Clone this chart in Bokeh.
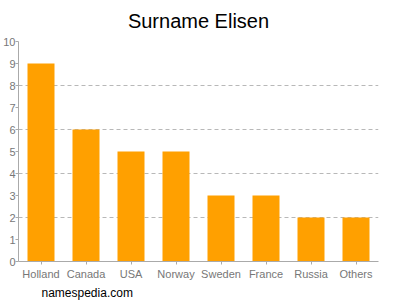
from bokeh.plotting import figure
from bokeh.models import FixedTicker, Title, Range1d
from bokeh.embed import file_html
from bokeh.resources import INLINE

countries = ["Holland", "Canada", "USA", "Norway", "Sweden", "France", "Russia", "Others"]
counts = [9, 6, 5, 5, 3, 3, 2, 2]
y_ticks = list(range(0, 11))
grid_ticks = [2, 4, 6, 8, 10]
title_text = "Surname Elisen"
source_text = "namespedia.com"

FONT = "Liberation Sans"

p = figure(x_range=countries, y_range=Range1d(0, 10), width=400, height=300,
           output_backend="svg", toolbar_location=None,
           min_border_left=17, min_border_right=22, min_border_top=41, min_border_bottom=39)
p.outline_line_color = None
p.background_fill_color = "white"
p.border_fill_color = "white"

p.vbar(x=countries, top=counts, width=0.6, color="#FFA000", line_color=None)

p.xgrid.grid_line_color = None
p.ygrid.ticker = FixedTicker(ticks=grid_ticks)
p.ygrid.grid_line_color = "#b8b8b8"
p.ygrid.grid_line_dash = "4 3"

p.yaxis.ticker = FixedTicker(ticks=y_ticks)
for ax in (p.xaxis[0], p.yaxis[0]):
    ax.axis_line_color = "#aaaaaa"
    ax.major_tick_line_color = "#aaaaaa"
    ax.minor_tick_line_color = None
    ax.major_tick_in = 0
    ax.major_tick_out = 3
    ax.major_label_text_font = FONT
    ax.major_label_text_font_size = "11px"
    ax.major_label_text_color = "#777777"
p.yaxis[0].major_label_standoff = 0
p.xaxis[0].major_label_standoff = 3

p.title.text = title_text
p.title.align = "center"
p.title.vertical_align = "top"
p.title.text_font = FONT
p.title.text_font_size = "20px"
p.title.text_font_style = "normal"
p.title.text_color = "#000000"
p.title.standoff = 16

src = Title(text=source_text, align="left", offset=23, text_font=FONT,
            text_font_size="12px", text_font_style="normal", text_color="#000000",
            standoff=2)
p.add_layout(src, "below")

open("out.html", "w").write(file_html(p, INLINE))
